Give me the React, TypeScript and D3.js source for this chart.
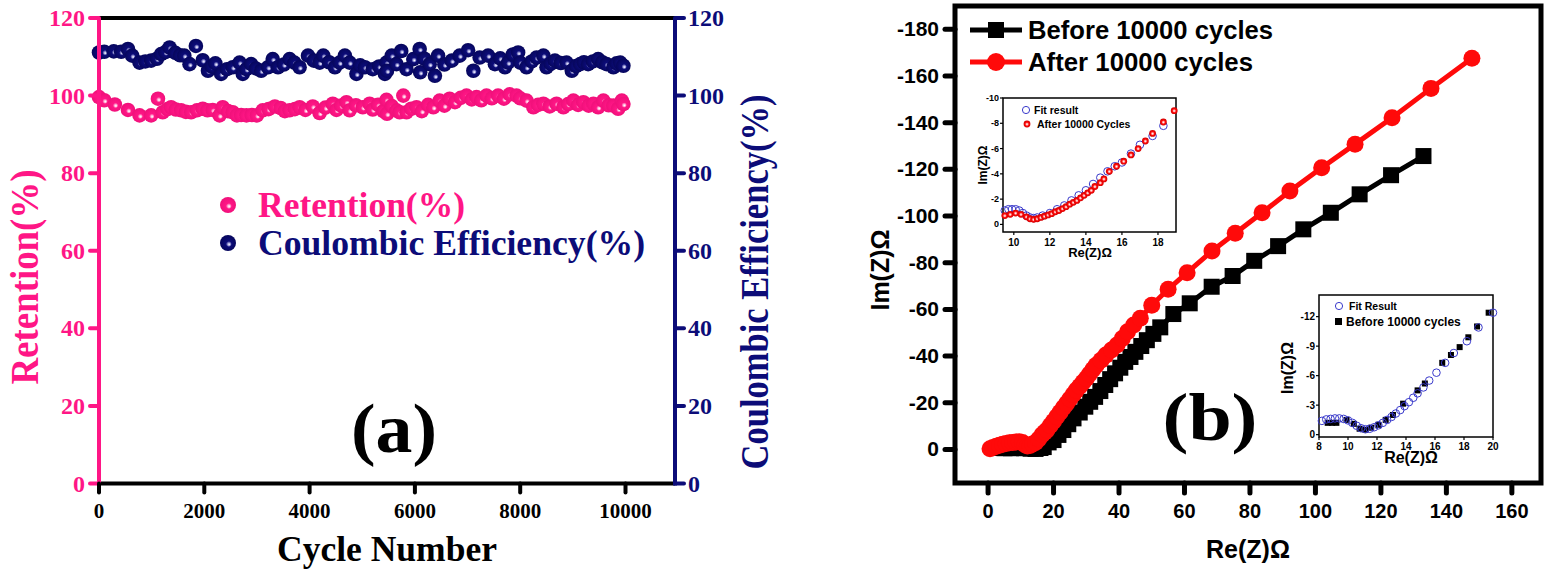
import * as d3 from 'd3'

// ---- panel (a): cycling stability ----
const retention: [number, number][] = [
  [0, 99.6], [100, 98.8], [300, 97.7], [550, 96.3], [770, 94.9], [990, 94.9], [1120, 99.2], [1210, 95.7],
  [1300, 96.5], [1370, 97], [1460, 96.4], [1560, 96.2], [1650, 95.8], [1750, 95.7], [1860, 96.2], [1970, 96.6],
  [2060, 96.2], [2160, 96.3], [2290, 94.9], [2350, 97], [2450, 96.0], [2540, 95.7], [2620, 94.9], [2700, 95.0],
  [2800, 94.9], [2900, 95.0], [3000, 94.9], [3110, 96.2], [3220, 96.5], [3340, 97.2], [3450, 96.8], [3530, 96.0],
  [3620, 96.2], [3720, 96.5], [3810, 97.0], [3920, 96.3], [4060, 97.2], [4190, 95.5], [4300, 96.9], [4440, 97.9],
  [4510, 96.3], [4600, 97.4], [4700, 98.3], [4760, 96.2], [4880, 97.5], [5010, 97.0], [5140, 97.9], [5200, 96.4],
  [5300, 97.6], [5400, 96.0], [5460, 98.9], [5470, 95.3], [5560, 97.3], [5650, 96.2], [5710, 95.7], [5780, 100.0],
  [5840, 95.7], [5930, 96.6], [6030, 97.0], [6130, 96.0], [6250, 97.6], [6350, 97.0], [6470, 98.7], [6560, 97.4],
  [6660, 99.2], [6760, 98.3], [6870, 99.4], [6980, 100], [7080, 99.0], [7170, 99.6], [7260, 98.8], [7360, 100],
  [7460, 99.3], [7580, 100], [7690, 99.2], [7800, 100.3], [7930, 100], [8000, 99.3], [8120, 98.7], [8250, 97.0],
  [8340, 97.6], [8440, 97.9], [8560, 97.2], [8690, 97.9], [8820, 97.0], [8910, 97.8], [9010, 98.7], [9100, 97.6],
  [9200, 98.3], [9300, 97.4], [9390, 97.9], [9480, 97.0], [9580, 98.7], [9680, 97.5], [9770, 97.4], [9860, 96.6],
  [9930, 98.7], [9960, 97.8],
]

const coulombic: [number, number][] = [
  [0, 111.1], [100, 111.3], [280, 111.4], [420, 111.3], [550, 112.0], [630, 110.3], [770, 108.5], [880, 108.8],
  [990, 109.0], [1100, 109.5], [1180, 110.7], [1260, 111.2], [1340, 112.4], [1450, 111.0], [1540, 110.4], [1620, 110.3],
  [1720, 108.1], [1840, 112.8], [1970, 109.1], [2070, 106.4], [2140, 107.5], [2210, 108.3], [2320, 105.6], [2430, 106.8],
  [2540, 107.3], [2670, 108.5], [2730, 105.6], [2800, 106.8], [2890, 108.1], [2980, 107.0], [3080, 106.4], [3210, 107.3],
  [3300, 109.4], [3400, 107.3], [3510, 108.0], [3620, 109.4], [3710, 108.5], [3810, 107.3], [3970, 110.3], [4080, 109.0],
  [4190, 108.5], [4260, 110.3], [4370, 108.6], [4480, 107.3], [4570, 108.5], [4670, 110.3], [4760, 108.5], [4890, 105.6],
  [4960, 107.8], [5050, 107.3], [5200, 106.8], [5320, 107.5], [5430, 105.6], [5460, 108.5], [5470, 106.4], [5560, 110.3],
  [5650, 108.1], [5740, 111.5], [5840, 106.8], [5970, 109.4], [6090, 112.0], [6100, 106.0], [6180, 109.5], [6280, 108.1],
  [6380, 105.1], [6440, 110.3], [6560, 108.0], [6700, 109.0], [6850, 110.3], [7010, 111.7], [7110, 106.4], [7230, 109.8],
  [7390, 110.3], [7520, 108.1], [7620, 109.6], [7710, 107.3], [7770, 108.5], [7860, 110.6], [7960, 111.1], [8000, 108.5],
  [8120, 107.3], [8220, 108.8], [8310, 109.8], [8440, 110.3], [8500, 107.3], [8580, 108.2], [8660, 109.0], [8770, 108.4],
  [8880, 108.5], [8980, 106.4], [9060, 107.6], [9140, 108.1], [9210, 108.6], [9290, 108.1], [9380, 108.8], [9480, 109.4],
  [9560, 108.6], [9640, 108.1], [9770, 107.3], [9830, 108.3], [9900, 108.5], [9960, 107.7],
]

const cycleTicks = [0, 2000, 4000, 6000, 8000, 10000]
const percentTicks = [0, 20, 40, 60, 80, 100, 120]

// ---- panel (b): Nyquist plots, values are -Im(Z) ----
const before10k: [number, number][] = [
  [3, 0.6], [5, 0.5], [7, 0.5], [9, 0.6], [11, 0.5], [13, 0.3], [14.5, 0.2], [16, 0.6], [17, 1], [18.5, 3],
  [20, 4], [21.5, 6.2], [23, 8.3], [24.5, 10.8], [26.1, 13.3], [28, 15.8], [29.7, 18.3], [31.2, 20.4], [32.7, 22.5],
  [34.3, 25], [35.8, 27.6], [37.3, 30.1], [38.8, 32.6], [40.4, 35], [41.9, 37.5], [43.5, 39.6], [45, 41.8],
  [46.8, 44.3], [48.5, 46.8], [50.5, 49.5], [52.6, 52.3], [56.6, 58], [61.6, 62.6], [68.3, 69.7], [74.7, 74.3],
  [81.3, 80.8], [88.6, 87.1], [96.3, 94.3], [104.7, 101.4], [113.5, 109.3], [123.1, 117.5], [133, 125.7],
]

const after10k: [number, number][] = [
  [0.6, 0.3], [1.5, 0.8], [2.5, 1.3], [3.5, 1.8], [4.5, 2.2], [5.5, 2.5], [6.5, 2.8], [7.5, 3.0], [8.5, 3.2],
  [9.5, 3.3], [10.5, 3.0], [11.3, 2.0], [12, 1.5], [12.8, 1.7], [13.6, 2.3], [14.5, 3.0], [15.5, 4.5], [16.5, 6.3],
  [17.3, 7.3], [18, 8.3], [19, 10.2], [20, 12.1], [21, 14], [22, 15.9], [23, 17.8], [24, 19.7], [25, 21.6],
  [26, 23.5], [27, 25.4], [28, 27.1], [29, 28.8], [30, 30.4], [31, 32.3], [32, 34.2], [33, 36.1], [34.5, 38.2],
  [36, 40.4], [37.7, 42.6], [39.4, 44.7], [41, 47.5], [42.6, 50.4], [44.5, 53.3], [46.5, 56.2], [50, 61.8],
  [55, 68.6], [60.8, 75.7], [68.4, 85], [75.5, 92.6], [83.7, 101.4], [92.2, 110.7], [101.9, 120.7], [112.1, 130.8],
  [123.4, 142.1], [135.3, 154.7], [147.8, 167.6],
]

const reTicks = [0, 20, 40, 60, 80, 100, 120, 140, 160]
const imTicks = [0, 20, 40, 60, 80, 100, 120, 140, 160, 180]

// inset 1 (after cycling)
const inset1Fit: [number, number][] = [
  [9.5, 1.1], [9.7, 1.2], [9.9, 1.2], [10.1, 1.2], [10.3, 1.1], [10.5, 0.9], [10.7, 0.7], [10.9, 0.55], [11.1, 0.5],
  [11.3, 0.55], [11.6, 0.7], [12, 0.9], [12.4, 1.2], [12.8, 1.5], [13.2, 1.9], [13.6, 2.3], [14, 2.7], [14.4, 3.2],
  [14.8, 3.7], [15.2, 4.2], [15.6, 4.6], [16, 4.9], [16.5, 5.6], [17, 6.3], [17.7, 7.0], [18.3, 7.8],
]
const inset1Data: [number, number][] = [
  [9.5, 0.7], [9.8, 0.8], [10.1, 0.9], [10.4, 0.8], [10.7, 0.6], [10.9, 0.45], [11.1, 0.4], [11.3, 0.45], [11.5, 0.55],
  [11.7, 0.65], [11.9, 0.75], [12.1, 0.85], [12.3, 1.0], [12.5, 1.1], [12.7, 1.25], [12.9, 1.4], [13.1, 1.6],
  [13.3, 1.75], [13.5, 1.9], [13.7, 2.1], [13.9, 2.3], [14.1, 2.5], [14.3, 2.7], [14.5, 3.0], [14.8, 3.3],
  [15.0, 3.6], [15.3, 4.2], [15.7, 4.6], [16.1, 5.0], [16.5, 5.5], [16.9, 6.0], [17.3, 6.6], [17.7, 7.2],
  [18.3, 8.1], [18.9, 9.0],
]
const inset1XTicks = [10, 12, 14, 16, 18]
const inset1YTicks = [0, 2, 4, 6, 8, 10]

// inset 2 (before cycling)
const inset2Fit: [number, number][] = [
  [8.2, 1.4], [8.5, 1.55], [8.8, 1.6], [9.1, 1.65], [9.4, 1.65], [9.7, 1.6], [10, 1.45], [10.3, 1.2], [10.6, 0.9],
  [10.9, 0.65], [11.2, 0.55], [11.5, 0.6], [11.8, 0.75], [12.1, 0.95], [12.4, 1.2], [12.7, 1.5], [13, 1.8],
  [13.3, 2.15], [13.6, 2.5], [13.9, 2.9], [14.2, 3.3], [14.5, 3.75], [14.8, 4.2], [15.2, 4.8], [15.6, 5.5],
  [16.1, 6.3], [16.7, 7.3], [17.3, 8.3], [18.2, 9.5], [19, 10.9], [20, 12.4],
]
const inset2Data: [number, number][] = [
  [8.6, 1.2], [8.9, 1.2], [9.2, 1.2], [9.9, 1.5], [10.4, 1.1], [10.8, 0.6], [11.2, 0.5], [11.6, 0.7], [12.1, 1.0],
  [12.6, 1.5], [13.1, 2.0], [13.8, 3.15], [14.8, 4.5], [15.3, 5.2], [16.5, 7.3], [17.1, 8.1], [17.7, 8.9],
  [18.3, 9.9], [18.9, 11.0], [19.7, 12.4],
]
const inset2XTicks = [8, 10, 12, 14, 16, 18, 20]
const inset2YTicks = [0, 3, 6, 9, 12]

const PINK = '#ff1686'
const NAVY = '#0c0c78'
const RED = '#ff0a0a'
const SERIF = '"Liberation Serif", "Times New Roman", serif'
const SANS = '"Liberation Sans", Arial, sans-serif'

// scales
const ax = d3.scaleLinear().domain([0, 10940]).range([99, 675])
const ay = d3.scaleLinear().domain([0, 120]).range([483.5, 18])
const bx = d3.scaleLinear().domain([-10.1, 168.9]).range([955, 1541])
const by = d3.scaleLinear().domain([-14.4, 190]).range([483, 6])
const i1x = d3.scaleLinear().domain([9.4, 19]).range([1003, 1176])
const i1y = d3.scaleLinear().domain([-0.6, 10]).range([232, 98])
const i2x = d3.scaleLinear().domain([8, 20]).range([1319, 1493])
const i2y = d3.scaleLinear().domain([-0.24, 14.2]).range([437, 295])

const neg = (v: number) => (v === 0 ? '0' : `-${v}`)

function PanelA() {
  const [x0, x1] = ax.range()
  const [yb, yt] = ay.range()
  return (
    <g>
      {/* spheres */}
      {retention.map(([c, v], i) => (
        <circle key={'r' + i} cx={ax(c)} cy={ay(v)} r={7.3} fill="url(#sPink)" />
      ))}
      {coulombic.map(([c, v], i) => (
        <circle key={'c' + i} cx={ax(c)} cy={ay(v)} r={7.3} fill="url(#sNavy)" />
      ))}

      {/* frame */}
      <line x1={x0} x2={x1} y1={yt} y2={yt} stroke="#000" strokeWidth={4} />
      <line x1={x0} x2={x1} y1={yb} y2={yb} stroke="#000" strokeWidth={4} />
      <line x1={x0} x2={x0} y1={yt} y2={yb + 2} stroke={PINK} strokeWidth={4} />
      <line x1={x1} x2={x1} y1={yt} y2={yb + 2} stroke={NAVY} strokeWidth={4} />

      {/* left ticks */}
      {percentTicks.map(t => (
        <g key={'l' + t}>
          <line x1={x0 - 9} x2={x0} y1={ay(t)} y2={ay(t)} stroke={PINK} strokeWidth={4} strokeLinecap="round" />
          <text x={x0 - 14} y={ay(t) + 8} textAnchor="end" fontFamily={SERIF} fontWeight="bold" fontSize={24} fill={PINK}>{t}</text>
        </g>
      ))}
      {/* right ticks */}
      {percentTicks.map(t => (
        <g key={'r' + t}>
          <line x1={x1} x2={x1 + 9} y1={ay(t)} y2={ay(t)} stroke={NAVY} strokeWidth={4} strokeLinecap="round" />
          <text x={x1 + 13} y={ay(t) + 8} textAnchor="start" fontFamily={SERIF} fontWeight="bold" fontSize={24} fill={NAVY}>{t}</text>
        </g>
      ))}
      {/* bottom ticks */}
      {cycleTicks.map(t => (
        <g key={'b' + t}>
          <line x1={ax(t)} x2={ax(t)} y1={yb} y2={yb + 9} stroke="#000" strokeWidth={4} strokeLinecap="round" />
          <text x={ax(t)} y={518} textAnchor="middle" fontFamily={SERIF} fontWeight="bold" fontSize={21} fill="#000">{t}</text>
        </g>
      ))}

      {/* axis titles */}
      <text transform="translate(38,277) rotate(-90)" textAnchor="middle" fontFamily={SERIF} fontWeight="bold" fontSize={40} fill={PINK} textLength={215} lengthAdjust="spacingAndGlyphs">Retention(%)</text>
      <text transform="translate(768,282) rotate(-90)" textAnchor="middle" fontFamily={SERIF} fontWeight="bold" fontSize={40} fill={NAVY} textLength={375} lengthAdjust="spacingAndGlyphs">Coulombic Efficiency(%)</text>
      <text x={387} y={561} textAnchor="middle" fontFamily={SERIF} fontWeight="bold" fontSize={36} fill="#000" textLength={220} lengthAdjust="spacingAndGlyphs">Cycle Number</text>

      {/* legend */}
      <circle cx={228} cy={205} r={8} fill="url(#sPink)" />
      <text x={258} y={217} fontFamily={SERIF} fontWeight="bold" fontSize={36} fill={PINK} textLength={207} lengthAdjust="spacingAndGlyphs">Retention(%)</text>
      <circle cx={228} cy={243} r={8} fill="url(#sNavy)" />
      <text x={258} y={255} fontFamily={SERIF} fontWeight="bold" fontSize={36} fill={NAVY} textLength={387} lengthAdjust="spacingAndGlyphs">Coulombic Efficiency(%)</text>

      <text x={394} y={452} textAnchor="middle" fontFamily={SERIF} fontWeight="bold" fontSize={70} fill="#000" textLength={86} lengthAdjust="spacingAndGlyphs">(a)</text>
    </g>
  )
}

function PanelB() {
  const [x0, x1] = bx.range()
  const [yb, yt] = by.range()
  const line = d3.line<[number, number]>().x(d => bx(d[0])).y(d => by(d[1]))
  return (
    <g>
      <path d={line(before10k) ?? ''} fill="none" stroke="#000" strokeWidth={5} />
      {before10k.map(([a, b], i) => (
        <rect key={'k' + i} x={bx(a) - 8} y={by(b) - 8} width={16} height={16} fill="#000" />
      ))}
      <path d={line(after10k) ?? ''} fill="none" stroke={RED} strokeWidth={5} />
      {after10k.map(([a, b], i) => (
        <circle key={'a' + i} cx={bx(a)} cy={by(b)} r={8.5} fill={RED} />
      ))}

      {/* frame */}
      <rect x={x0} y={yt} width={x1 - x0} height={yb - yt} fill="none" stroke="#000" strokeWidth={5} />
      {imTicks.map(t => (
        <g key={'y' + t}>
          <line x1={x0 - 10} x2={x0} y1={by(t)} y2={by(t)} stroke="#000" strokeWidth={5} strokeLinecap="round" />
          <text x={939} y={by(t) + 7} textAnchor="end" fontFamily={SANS} fontWeight="bold" fontSize={21} fill="#000">{neg(t)}</text>
        </g>
      ))}
      {reTicks.map(t => (
        <g key={'x' + t}>
          <line x1={bx(t)} x2={bx(t)} y1={yb} y2={yb + 10} stroke="#000" strokeWidth={5} strokeLinecap="round" />
          <text x={bx(t)} y={518} textAnchor="middle" fontFamily={SANS} fontWeight="bold" fontSize={20} fill="#000">{t}</text>
        </g>
      ))}
      <text transform="translate(889,270) rotate(-90)" textAnchor="middle" fontFamily={SANS} fontWeight="bold" fontSize={25} fill="#000">Im(Z)Ω</text>
      <text x={1248} y={558} textAnchor="middle" fontFamily={SANS} fontWeight="bold" fontSize={25} fill="#000">Re(Z)Ω</text>

      {/* legend */}
      <line x1={970} x2={1022} y1={30} y2={30} stroke="#000" strokeWidth={5} />
      <rect x={988} y={22} width={16} height={16} fill="#000" />
      <text x={1028} y={39} fontFamily={SANS} fontWeight="bold" fontSize={26} fill="#000" textLength={245} lengthAdjust="spacingAndGlyphs">Before 10000 cycles</text>
      <line x1={970} x2={1022} y1={62} y2={62} stroke={RED} strokeWidth={5} />
      <circle cx={996} cy={62} r={9} fill={RED} />
      <text x={1028} y={71} fontFamily={SANS} fontWeight="bold" fontSize={26} fill="#000" textLength={225} lengthAdjust="spacingAndGlyphs">After 10000 cycles</text>

      <text x={1210} y={440} textAnchor="middle" fontFamily={SERIF} fontWeight="bold" fontSize={68} fill="#000" textLength={95} lengthAdjust="spacingAndGlyphs">(b)</text>

      <Inset1 />
      <Inset2 />
    </g>
  )
}

function Inset1() {
  const [x0, x1] = i1x.range()
  const [yb, yt] = i1y.range()
  return (
    <g>
      <rect x={x0} y={yt} width={x1 - x0} height={yb - yt} fill="#fff" stroke="#000" strokeWidth={1.5} />
      {inset1Fit.map(([a, b], i) => (
        <circle key={'f' + i} cx={i1x(a)} cy={i1y(b)} r={3.8} fill="none" stroke="#3a3acb" strokeWidth={1} />
      ))}
      {inset1Data.map(([a, b], i) => (
        <circle key={'d' + i} cx={i1x(a)} cy={i1y(b)} r={3.4} fill="url(#sRed)" />
      ))}
      {inset1YTicks.map(t => (
        <g key={'y' + t}>
          <line x1={x0 - 3} x2={x0} y1={i1y(t)} y2={i1y(t)} stroke="#000" strokeWidth={1.2} />
          <text x={x0 - 4} y={i1y(t) + 3} textAnchor="end" fontFamily={SANS} fontWeight="bold" fontSize={9} fill="#000">{neg(t)}</text>
        </g>
      ))}
      {inset1XTicks.map(t => (
        <g key={'x' + t}>
          <line x1={i1x(t)} x2={i1x(t)} y1={yb} y2={yb + 3} stroke="#000" strokeWidth={1.2} />
          <text x={i1x(t)} y={yb + 14} textAnchor="middle" fontFamily={SANS} fontWeight="bold" fontSize={10} fill="#000">{t}</text>
        </g>
      ))}
      <text transform="translate(987,165) rotate(-90)" textAnchor="middle" fontFamily={SANS} fontWeight="bold" fontSize={12} fill="#000">Im(Z)Ω</text>
      <text x={1090} y={257} textAnchor="middle" fontFamily={SANS} fontWeight="bold" fontSize={13} fill="#000">Re(Z)Ω</text>
      <circle cx={1026} cy={110} r={3.6} fill="none" stroke="#3a3acb" strokeWidth={1} />
      <text x={1034} y={114} fontFamily={SANS} fontWeight="bold" fontSize={10.5} fill="#000">Fit result</text>
      <circle cx={1027} cy={124} r={3.4} fill="url(#sRed)" />
      <text x={1037} y={128} fontFamily={SANS} fontWeight="bold" fontSize={10.5} fill="#000">After 10000 Cycles</text>
    </g>
  )
}

function Inset2() {
  const [x0, x1] = i2x.range()
  const [yb, yt] = i2y.range()
  return (
    <g>
      <rect x={x0} y={yt} width={x1 - x0} height={yb - yt} fill="#fff" stroke="#000" strokeWidth={1.5} />
      {inset2Data.map(([a, b], i) => (
        <rect key={'d' + i} x={i2x(a) - 3} y={i2y(b) - 3} width={6} height={6} fill="#000" />
      ))}
      {inset2Fit.map(([a, b], i) => (
        <circle key={'f' + i} cx={i2x(a)} cy={i2y(b)} r={3.8} fill="none" stroke="#3a3acb" strokeWidth={1} />
      ))}
      {inset2YTicks.map(t => (
        <g key={'y' + t}>
          <line x1={x0 - 3} x2={x0} y1={i2y(t)} y2={i2y(t)} stroke="#000" strokeWidth={1.2} />
          <text x={x0 - 4} y={i2y(t) + 3.5} textAnchor="end" fontFamily={SANS} fontWeight="bold" fontSize={10} fill="#000">{neg(t)}</text>
        </g>
      ))}
      {inset2XTicks.map(t => (
        <g key={'x' + t}>
          <line x1={i2x(t)} x2={i2x(t)} y1={yb} y2={yb + 3} stroke="#000" strokeWidth={1.2} />
          <text x={i2x(t)} y={yb + 13} textAnchor="middle" fontFamily={SANS} fontWeight="bold" fontSize={10} fill="#000">{t}</text>
        </g>
      ))}
      <text transform="translate(1293,368) rotate(-90)" textAnchor="middle" fontFamily={SANS} fontWeight="bold" fontSize={16} fill="#000">Im(Z)Ω</text>
      <text x={1411} y={463} textAnchor="middle" fontFamily={SANS} fontWeight="bold" fontSize={16} fill="#000">Re(Z)Ω</text>
      <circle cx={1339} cy={306} r={3.6} fill="none" stroke="#3a3acb" strokeWidth={1} />
      <text x={1349} y={310} fontFamily={SANS} fontWeight="bold" fontSize={10.5} fill="#000">Fit Result</text>
      <rect x={1335} y={318} width={7} height={7} fill="#000" />
      <text x={1346} y={326} fontFamily={SANS} fontWeight="bold" fontSize={12} fill="#000">Before 10000 cycles</text>
    </g>
  )
}

export default function App() {
  return (
    <svg width={1548} height={578} style={{ position: 'absolute', left: 0, top: 0, background: '#fff' }}>
      <defs>
        <radialGradient id="sPink" cx="50%" cy="50%" r="50%" fx="58%" fy="60%">
          <stop offset="0%" stopColor="#ffffff" />
          <stop offset="14%" stopColor="#ffc4e0" />
          <stop offset="36%" stopColor={PINK} />
          <stop offset="100%" stopColor="#f0107a" />
        </radialGradient>
        <radialGradient id="sNavy" cx="50%" cy="50%" r="50%" fx="58%" fy="60%">
          <stop offset="0%" stopColor="#ffffff" />
          <stop offset="14%" stopColor="#b4b4e6" />
          <stop offset="36%" stopColor={NAVY} />
          <stop offset="100%" stopColor="#06065c" />
        </radialGradient>
        <radialGradient id="sRed" cx="50%" cy="50%" r="50%" fx="50%" fy="55%">
          <stop offset="0%" stopColor="#ffffff" />
          <stop offset="25%" stopColor="#ffb0b0" />
          <stop offset="55%" stopColor={RED} />
          <stop offset="100%" stopColor="#d00000" />
        </radialGradient>
      </defs>
      <PanelA />
      <PanelB />
    </svg>
  )
}
